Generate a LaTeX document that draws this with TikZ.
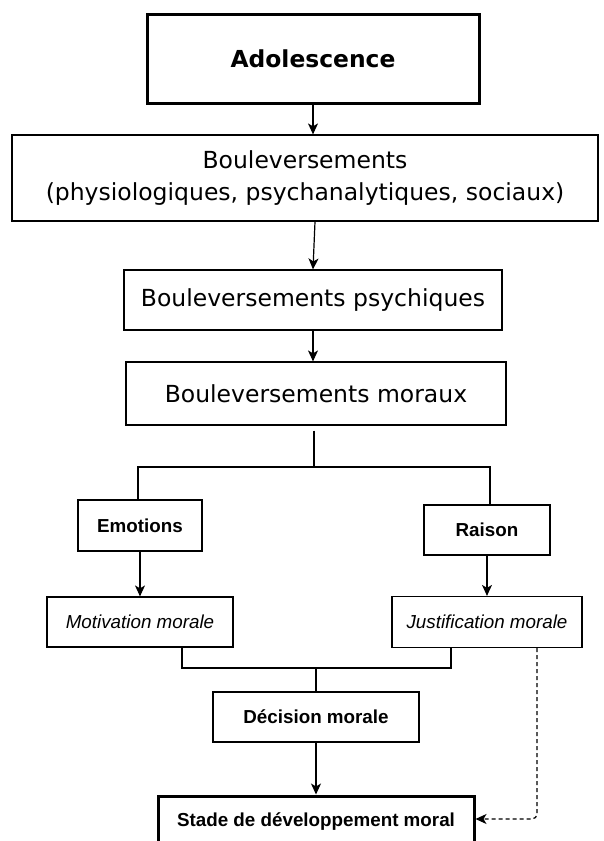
\documentclass[tikz,border=0pt]{standalone}
\usepackage{fontspec}
\setmainfont{Liberation Sans}
\newfontfamily\verd{DejaVu Sans}
\newfontfamily\ari{Liberation Sans}
\usetikzlibrary{arrows.meta}
\begin{document}
\begin{tikzpicture}[x=1pt,y=-1pt,
  box/.style={draw,line width=1.2pt,rectangle,inner sep=0pt,align=center},
  thickbox/.style={box,line width=3pt},
  topfont/.style={font=\verd\fontsize{23.5}{32}\selectfont},
  lowfont/.style={font=\ari\bfseries\fontsize{18.8}{22}\selectfont},
  itfont/.style={font=\ari\itshape\fontsize{18.8}{22}\selectfont},
  arr/.style={line width=1.2pt,-{Stealth[length=11pt,width=10pt,inset=3pt]}},
  ln/.style={line width=1.2pt}
]
\useasboundingbox (0,0) rectangle (603,841);
\clip (0,0) rectangle (603,841);
\node[thickbox,minimum width=332pt,minimum height=89pt,font=\verd\bfseries\fontsize{23.4}{27}\selectfont] (adol) at (313,58.5) {Adolescence};
\node[box,topfont,minimum width=586pt,minimum height=86pt] (boul) at (305,178) {Bouleversements\\(physiologiques, psychanalytiques, sociaux)};
\node[box,topfont,minimum width=378pt,minimum height=60pt] (psy) at (313,300) {Bouleversements psychiques};
\node[box,topfont,minimum width=380pt,minimum height=63pt] (mor) at (316,393.5) {Bouleversements moraux};
\node[box,lowfont,minimum width=124pt,minimum height=51pt] (emo) at (140,525.5) {Emotions};
\node[box,lowfont,minimum width=126pt,minimum height=50pt] (rai) at (487,530) {Raison};
\node[box,itfont,minimum width=186pt,minimum height=50pt] (mot) at (140,622) {Motivation morale};
\node[box,itfont,minimum width=190pt,minimum height=51pt] (jus) at (487,622) {Justification morale};
\node[box,lowfont,minimum width=206pt,minimum height=50pt] (dec) at (316,717) {Décision morale};
\node[thickbox,lowfont,minimum width=316pt,minimum height=52pt] (stade) at (316,822) {Stade de développement moral};
\coordinate (split) at (314,467);
\coordinate (merge) at (316,668);
\draw[arr] (adol.south) -- (boul.north -| adol.south);
\draw[arr] (boul.south -| 315,0) -- (psy.north);
\draw[arr] (psy.south) -- (mor.north -| psy.south);
\draw[ln] ([yshift=-5pt]mor.south -| split) -- (split);
\draw[ln] (split) -| ([xshift=-2pt]emo.north);
\draw[ln] (split) -| ([xshift=3pt]rai.north);
\draw[arr] (emo.south) -- (mot.north -| emo.south);
\draw[arr] (rai.south) -- (jus.north -| rai.south);
\draw[ln] ([xshift=42pt]mot.south) |- (merge);
\draw[ln] ([xshift=-36pt]jus.south) |- (merge);
\draw[ln] (merge) -- (dec.north -| merge);
\draw[arr] (dec.south) -- (stade.north);
\draw[arr,dashed,dash pattern=on 4pt off 3pt,rounded corners=5pt] ([xshift=50pt]jus.south) |- ([yshift=3pt]stade.east);
\end{tikzpicture}
\end{document}
